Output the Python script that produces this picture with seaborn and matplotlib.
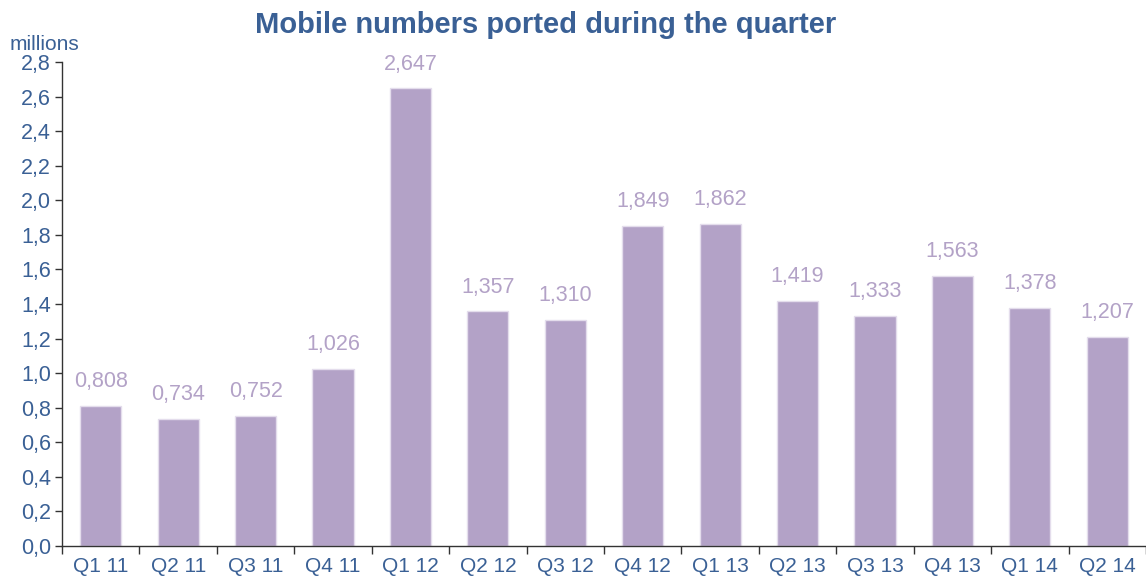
import numpy as np
import pandas as pd
import matplotlib
matplotlib.use("Agg")
import matplotlib.pyplot as plt
import seaborn as sns

quarters = ["Q1 11", "Q2 11", "Q3 11", "Q4 11", "Q1 12", "Q2 12", "Q3 12",
            "Q4 12", "Q1 13", "Q2 13", "Q3 13", "Q4 13", "Q1 14", "Q2 14"]
ported = [0.808, 0.734, 0.752, 1.026, 2.647, 1.357, 1.310,
          1.849, 1.862, 1.419, 1.333, 1.563, 1.378, 1.207]
y_ticks = [0.0, 0.2, 0.4, 0.6, 0.8, 1.0, 1.2, 1.4, 1.6, 1.8, 2.0, 2.2, 2.4, 2.6, 2.8]

BAR = "#B3A2C7"
BLUE = "#3A6095"

sns.set_style("white")
plt.rcParams["font.family"] = ["Liberation Sans", "DejaVu Sans"]

df = pd.DataFrame({"Quarter": quarters, "Ported": ported})

fig = plt.figure(figsize=(11.46, 5.78), dpi=100)
ax = fig.add_axes([62 / 1146, 1 - 546 / 578, 1 - 62 / 1146, (546 - 62) / 578])

sns.barplot(data=df, x="Quarter", y="Ported", color=BAR, width=0.53,
            edgecolor="#E4DDEC", linewidth=1, saturation=1, ax=ax)

# value labels above bars
for i, v in enumerate(ported):
    ax.annotate(f"{v:.3f}".replace(".", ","), (i, v), xytext=(0, 10),
                textcoords="offset points", ha="center", va="bottom",
                color=BAR, fontsize=15.5)

ax.set_ylim(0, 2.8)
ax.set_xlim(-0.5, -0.5 + 1084 / 78)
ax.set_yticks(y_ticks)
ax.set_yticklabels([f"{t:.1f}".replace(".", ",") for t in y_ticks])
ax.set_xticks(np.arange(len(quarters)))
ax.set_xticklabels(quarters)
ax.set_xticks(np.arange(len(quarters) + 1) - 0.5, minor=True)
ax.tick_params(axis="x", which="major", length=0, pad=8, labelsize=15, labelcolor=BLUE)
ax.tick_params(axis="x", which="minor", length=6, width=1, color="#333333", direction="out", bottom=True)
ax.tick_params(axis="y", length=5, width=1, color="#333333", direction="out", left=True,
               labelsize=15.5, labelcolor=BLUE, pad=3)
ax.set_xlabel("")
ax.set_ylabel("")

for s in ["top", "right"]:
    ax.spines[s].set_visible(False)
for s in ["left", "bottom"]:
    ax.spines[s].set_color("#333333")
    ax.spines[s].set_linewidth(1)

fig.text(546 / 1146, 1 - 25 / 578, "Mobile numbers ported during the quarter",
         ha="center", va="center", fontsize=21, fontweight="bold", color=BLUE)
fig.text(10 / 1146, 1 - 44 / 578, "millions", ha="left", va="center",
         fontsize=15, color=BLUE)

fig.savefig("out.png", dpi=100)
